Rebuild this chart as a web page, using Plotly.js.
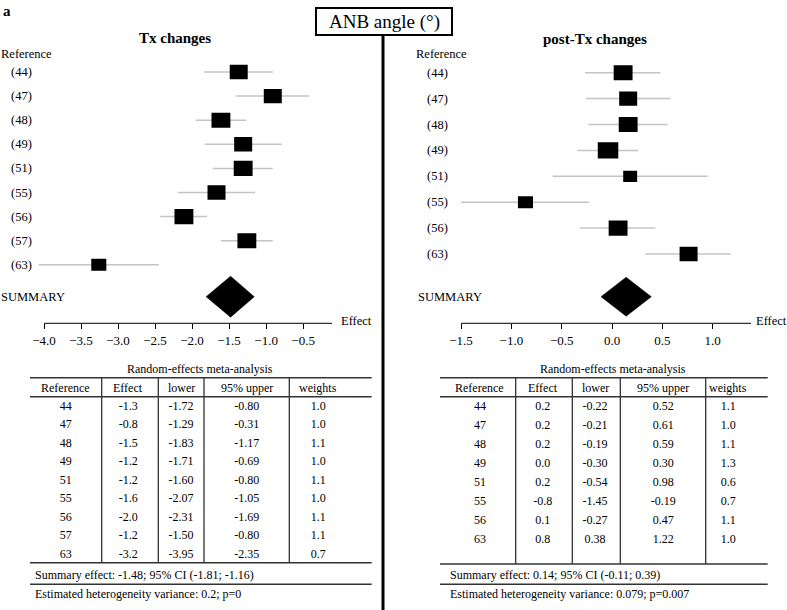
<!DOCTYPE html>
<html>
<head>
<meta charset="utf-8">
<script src="https://cdn.plot.ly/plotly-3.0.1.min.js"></script>
<style>body{margin:0;background:#fff;} #chart{width:787px;height:610px;}</style>
</head>
<body>
<div id="chart"></div>
<script>
// study references
var txRefs = ['44', '47', '48', '49', '51', '55', '56', '57', '63'];
var postRefs = ['44', '47', '48', '49', '51', '55', '56', '63'];

// random-effects table, Tx changes
var txEffect = [-1.3, -0.8, -1.5, -1.2, -1.2, -1.6, -2.0, -1.2, -3.2];
var txLower = [-1.72, -1.29, -1.83, -1.71, -1.60, -2.07, -2.31, -1.50, -3.95];
var txUpper = [-0.80, -0.31, -1.17, -0.69, -0.80, -1.05, -1.69, -0.80, -2.35];
var txWeights = [1.0, 1.0, 1.1, 1.0, 1.1, 1.0, 1.1, 1.1, 0.7];

// random-effects table, post-Tx changes
var postEffect = [0.2, 0.2, 0.2, 0.0, 0.2, -0.8, 0.1, 0.8];
var postLower = [-0.22, -0.21, -0.19, -0.30, -0.54, -1.45, -0.27, 0.38];
var postUpper = [0.52, 0.61, 0.59, 0.30, 0.98, -0.19, 0.47, 1.22];
var postWeights = [1.1, 1.0, 1.1, 1.3, 0.6, 0.7, 1.1, 1.0];

// boxes and whiskers as drawn in the forest plots
var txPlotMean = [-1.37, -0.91, -1.61, -1.31, -1.31, -1.67, -2.11, -1.26, -3.26];
var txPlotLo = [-1.84, -1.41, -1.95, -1.83, -1.72, -2.19, -2.43, -1.61, -4.07];
var txPlotHi = [-0.91, -0.42, -1.27, -0.79, -0.91, -1.15, -1.80, -0.91, -2.45];
var postPlotMean = [0.11, 0.16, 0.16, -0.04, 0.18, -0.86, 0.06, 0.76];
var postPlotLo = [-0.27, -0.26, -0.235, -0.345, -0.59, -1.50, -0.32, 0.33];
var postPlotHi = [0.48, 0.58, 0.55, 0.26, 0.95, -0.23, 0.43, 1.18];

// summary: effect, lower, upper
var txSummary = [-1.48, -1.81, -1.16];
var postSummary = [0.14, -0.11, 0.39];
var txHetero = ['0.2', '0'];
var postHetero = ['0.079', '0.007'];

var tableHeader = ['Reference', 'Effect', 'lower', '95% upper', 'weights'];

var W = 787, H = 610;
var FONT = 'Liberation Serif';
function px(x) { return x / W; }
function py(y) { return 1 - y / H; }

var traces = [];
var shapes = [];
var annotations = [];

// x axes of the two forest plots
var txRange = [-4.1, -0.11], txDom = [px(36.6), px(332)];
var postRange = [-1.55, 1.38], postDom = [px(456), px(751)];
var axisY = 323.3;

function axisPaper(dom, range, v) {
  return dom[0] + (v - range[0]) / (range[1] - range[0]) * (dom[1] - dom[0]);
}

function forest(mean, lo, hi, weights, summary, xa, ya, firstY, stepY, diamondH) {
  var lx = [], ly = [];
  for (var i = 0; i < mean.length; i++) {
    var y = firstY + i * stepY;
    lx.push(lo[i], hi[i], null);
    ly.push(y, y, null);
    var s = Math.sqrt(weights[i]);
    shapes.push({
      type: 'rect', xref: xa, yref: ya, xsizemode: 'pixel', ysizemode: 'pixel',
      xanchor: mean[i], yanchor: y,
      x0: -9 * s, x1: 9 * s, y0: -7.2 * s, y1: 7.2 * s,
      fillcolor: 'black', line: {width: 0}
    });
  }
  traces.push({
    type: 'scatter', mode: 'lines', x: lx, y: ly, xaxis: xa, yaxis: ya,
    line: {color: '#c4c4c4', width: 1.5}, hoverinfo: 'skip', showlegend: false
  });
  var sy = 296.7;
  traces.push({
    type: 'scatter', mode: 'lines', fill: 'toself', fillcolor: 'black',
    x: [summary[1], summary[0], summary[2], summary[0], summary[1]],
    y: [sy, sy - diamondH, sy, sy + diamondH, sy],
    xaxis: xa, yaxis: ya, line: {color: 'black', width: 0.5},
    hoverinfo: 'skip', showlegend: false
  });
}

forest(txPlotMean, txPlotLo, txPlotHi, txWeights, txSummary, 'x', 'y', 72, 24.1, 20.5);
forest(postPlotMean, postPlotLo, postPlotHi, postWeights, postSummary, 'x2', 'y2', 72.7, 25.9, 19.5);

// axis lines (start at the first tick)
shapes.push({type: 'line', xref: 'paper', yref: 'paper',
  x0: axisPaper(txDom, txRange, -4.0), x1: txDom[1], y0: py(axisY), y1: py(axisY),
  line: {color: 'black', width: 1}});
shapes.push({type: 'line', xref: 'paper', yref: 'paper',
  x0: axisPaper(postDom, postRange, -1.5), x1: postDom[1], y0: py(axisY), y1: py(axisY),
  line: {color: 'black', width: 1}});

// row labels
function rowLabels(refs, xLeft, firstY, stepY, ya) {
  refs.forEach(function(r, i) {
    annotations.push({xref: 'paper', yref: ya, x: px(xLeft), y: firstY + i * stepY,
      xanchor: 'left', yanchor: 'middle', showarrow: false, text: '(' + r + ')',
      font: {size: 12.5}});
  });
}
rowLabels(txRefs, 9, 72, 24.1, 'y');
rowLabels(postRefs, 425, 72.7, 25.9, 'y2');

function label(text, x, y, size, anchor) {
  annotations.push({xref: 'paper', yref: 'paper', x: px(x), y: py(y),
    xanchor: anchor || 'left', yanchor: 'middle', showarrow: false, text: text,
    font: {size: size}, borderpad: 0});
}
label('Reference', 0, 54, 12.5);
label('Reference', 415, 54, 12.5);
label('SUMMARY', 0, 296.7, 12.5);
label('SUMMARY', 416.7, 296.7, 12.5);
label('Effect', 340, 321, 12.5);
label('Effect', 755, 321, 12.5);
label('<b>Tx changes</b>', 175, 38, 15, 'center');
label('<b>post-Tx changes</b>', 595, 39, 15, 'center');
label('<b>a</b>', 2, 11, 15);
label('ANB angle (°)', 384, 21.5, 19, 'center');

// title box and divider
shapes.push({type: 'rect', xref: 'paper', yref: 'paper', x0: px(316), x1: px(452),
  y0: py(35), y1: py(8), line: {color: 'black', width: 2}});
shapes.push({type: 'line', xref: 'paper', yref: 'paper', x0: px(383), x1: px(383),
  y0: py(35), y1: py(610), line: {color: 'black', width: 3}});

// tables
function table(refs, eff, lo, hi, w, summary, hetero, xa, ya, colX, seps, ruleX,
               textX, titleX, firstY, stepY, lastRule) {
  var cols = [
    refs,
    eff.map(function(v) { return v.toFixed(1); }),
    lo.map(function(v) { return v.toFixed(2); }),
    hi.map(function(v) { return v.toFixed(2); }),
    w.map(function(v) { return v.toFixed(1); })
  ];
  cols.forEach(function(col, c) {
    traces.push({
      type: 'scatter', mode: 'text', xaxis: xa, yaxis: ya,
      x: col.map(function() { return colX[c]; }),
      y: col.map(function(_, i) { return firstY + i * stepY; }),
      text: col, textposition: 'middle center', cliponaxis: false,
      textfont: {family: FONT, size: 12, color: 'black'},
      hoverinfo: 'skip', showlegend: false
    });
    annotations.push({xref: xa, yref: ya, x: colX[c], y: 388.3, showarrow: false,
      text: tableHeader[c], font: {size: 12}, yanchor: 'middle'});
  });
  annotations.push({xref: xa, yref: ya, x: titleX, y: 369, showarrow: false,
    text: 'Random-effects meta-analysis', font: {size: 12}, yanchor: 'middle'});
  annotations.push({xref: xa, yref: ya, x: textX, y: 575, showarrow: false, xanchor: 'left',
    text: 'Summary effect: ' + summary[0].toFixed(2) + '; 95% CI (' + summary[1].toFixed(2) +
      '; ' + summary[2].toFixed(2) + ')', font: {size: 12}, yanchor: 'middle'});
  annotations.push({xref: xa, yref: ya, x: textX, y: 594.3, showarrow: false, xanchor: 'left',
    text: 'Estimated heterogeneity variance: ' + hetero[0] + '; p=' + hetero[1],
    font: {size: 12}, yanchor: 'middle'});
  [377.7, 396.7, lastRule, 584.3].forEach(function(y) {
    shapes.push({type: 'line', xref: xa, yref: ya, x0: ruleX[0], x1: ruleX[1], y0: y, y1: y,
      line: {color: '#333', width: 1.5}});
  });
  seps.forEach(function(x) {
    shapes.push({type: 'line', xref: xa, yref: ya, x0: x, x1: x, y0: 377.7, y1: lastRule,
      line: {color: '#333', width: 1.3}});
  });
}

table(txRefs, txEffect, txLower, txUpper, txWeights, txSummary, txHetero, 'x3', 'y3',
  [65.7, 128.3, 181, 246.7, 318.3], [101.7, 158.3, 204, 289.3], [30, 371.7],
  33.3, 200, 406.7, 18.54, 562.7);
table(postRefs, postEffect, postLower, postUpper, postWeights, postSummary, postHetero,
  'x4', 'y4', [480, 542.7, 595, 663.3, 728.3], [515.7, 572.3, 620.3, 705.7], [440, 767.7],
  448.3, 613, 406.7, 19.04, 564);

var forestX = {
  showline: false, showgrid: false, zeroline: false,
  ticks: 'outside', ticklen: 5, tickwidth: 1, tickcolor: 'black',
  tickmode: 'linear', tick0: 0, dtick: 0.5, tickformat: '.1f',
  tickfont: {family: FONT, size: 13, color: 'black'}
};
var hidden = {visible: false, showgrid: false, zeroline: false};

var layout = {
  width: W, height: H,
  margin: {l: 0, r: 0, t: 0, b: 0},
  paper_bgcolor: 'white', plot_bgcolor: 'rgba(0,0,0,0)',
  font: {family: FONT, color: 'black'},
  showlegend: false,
  xaxis: Object.assign({}, forestX, {domain: txDom, range: txRange, anchor: 'y'}),
  yaxis: Object.assign({}, hidden, {domain: [py(axisY), py(60)], range: [axisY, 60], anchor: 'x'}),
  xaxis2: Object.assign({}, forestX, {domain: postDom, range: postRange, anchor: 'y2'}),
  yaxis2: Object.assign({}, hidden, {domain: [py(axisY), py(60)], range: [axisY, 60], anchor: 'x2'}),
  xaxis3: Object.assign({}, hidden, {domain: [0, px(395)], range: [0, 395], anchor: 'y3'}),
  yaxis3: Object.assign({}, hidden, {domain: [0, py(355)], range: [610, 355], anchor: 'x3'}),
  xaxis4: Object.assign({}, hidden, {domain: [px(395), 1], range: [395, 787], anchor: 'y4'}),
  yaxis4: Object.assign({}, hidden, {domain: [0, py(355)], range: [610, 355], anchor: 'x4'}),
  shapes: shapes,
  annotations: annotations
};

Plotly.newPlot('chart', traces, layout, {displayModeBar: false, staticPlot: true});
</script>
</body>
</html>
